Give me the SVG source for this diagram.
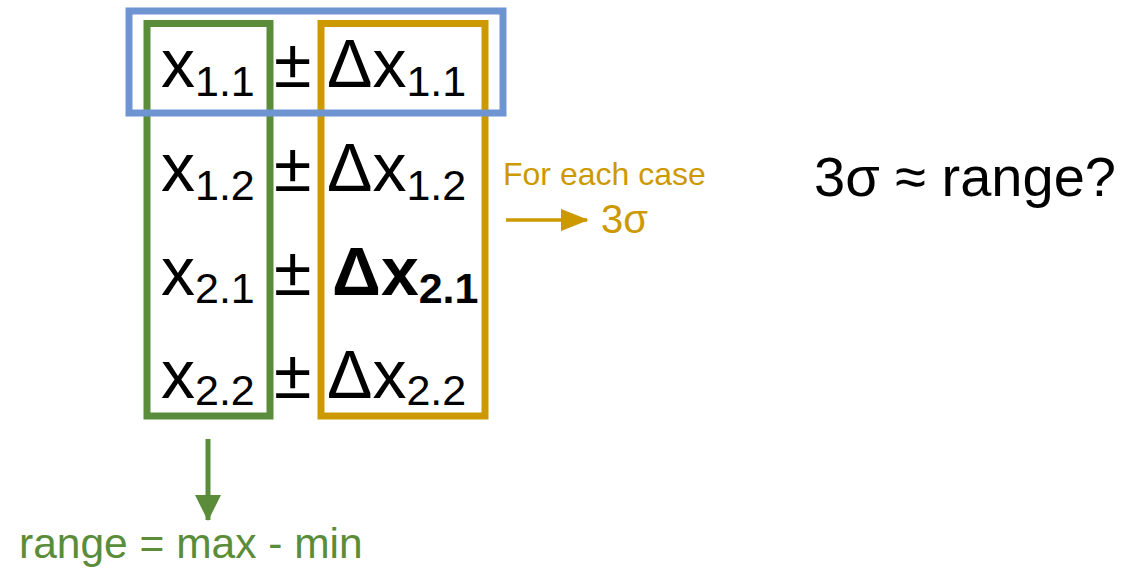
<svg xmlns="http://www.w3.org/2000/svg" width="1142" height="570" viewBox="0 0 1142 570">
<style>
.t{font-family:"Liberation Sans",Arial,sans-serif;}
.m{font-size:68px;fill:#000;}
.s{font-size:43px;}
.b{font-weight:bold;}
.box{fill:none;stroke-width:7;}
</style>
<defs>
<marker id="ah-o" markerWidth="8" markerHeight="6.4" refX="7.5" refY="3.2" orient="auto" markerUnits="strokeWidth"><path d="M0,0 L8,3.2 L0,6.4 Z" fill="#cc9a00"/></marker>
<marker id="ah-g" markerWidth="5.2" markerHeight="5.2" refX="5" refY="2.6" orient="auto" markerUnits="strokeWidth"><path d="M0,0 L5.2,2.6 L0,5.2 Z" fill="#5a8c3a"/></marker>
</defs>
<rect width="1142" height="570" fill="#fff"/>
<g id="green-col"><rect class="box" x="147" y="23.5" width="123" height="392.5" stroke="#5a8c3a"/></g>
<g id="orange-col"><rect class="box" x="321" y="23.5" width="164" height="392.5" stroke="#cc9a00"/></g>
<g id="blue-row"><rect class="box" x="129" y="11" width="374" height="102" stroke="#6f94d2" stroke-width="7.5"/></g>
<g id="values" class="t m">
<text x="161" y="87">x<tspan class="s" dy="9">1.1</tspan></text>
<text x="161" y="191">x<tspan class="s" dy="9">1.2</tspan></text>
<text x="161" y="295">x<tspan class="s" dy="8">2.1</tspan></text>
<text x="161" y="398">x<tspan class="s" dy="7">2.2</tspan></text>
</g>
<g id="pm" class="t m">
<text x="274" y="87">±</text>
<text x="274" y="191">±</text>
<text x="274" y="295">±</text>
<text x="274" y="398">±</text>
</g>
<g id="errors" class="t m">
<text x="327" y="87">Δx<tspan class="s" dy="9">1.1</tspan></text>
<text x="327" y="191">Δx<tspan class="s" dy="9">1.2</tspan></text>
<text x="332" y="295" class="b">Δx<tspan class="s" dy="8">2.1</tspan></text>
<text x="327" y="398">Δx<tspan class="s" dy="7">2.2</tspan></text>
</g>
<g id="connectors">
<line x1="506" y1="220" x2="587" y2="220" stroke="#cc9a00" stroke-width="3.5" marker-end="url(#ah-o)"/>
<line x1="208" y1="439" x2="208" y2="520" stroke="#5a8c3a" stroke-width="5" marker-end="url(#ah-g)"/>
</g>
<g id="for-each" class="t">
<text x="503" y="185" font-size="32" fill="#cc9a00">For each case</text>
<text x="601" y="233" font-size="40" fill="#cc9a00">3σ</text>
</g>
<g id="range-label" class="t"><text x="19" y="558" font-size="42.5" fill="#5a8c3a">range = max - min</text></g>
<g id="question" class="t"><text x="814" y="196" font-size="56" fill="#000">3σ ≈ range?</text></g>
</svg>
